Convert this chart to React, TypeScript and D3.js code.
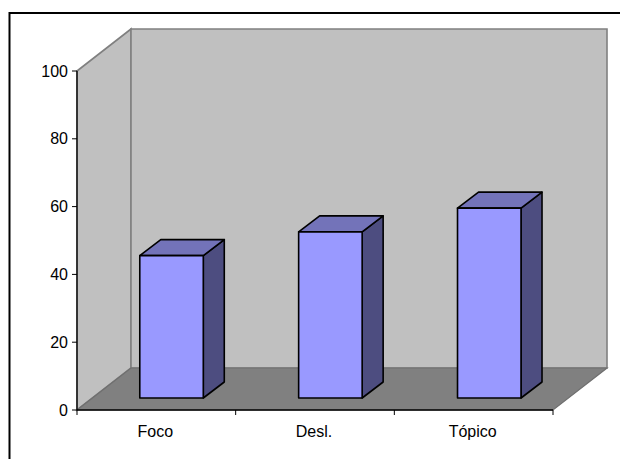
import React from "react";
import * as d3 from "d3";

const categories = ["Foco", "Desl.", "Tópico"];
const values = [42, 49, 56];
const yTicks = [0, 20, 40, 60, 80, 100];

const FONT = "'Liberation Sans', Arial, sans-serif";

// Oblique projection of the chart box
const depthX = 54;
const depthY = -42;
const barDepthX = 21;
const barDepthY = -16;
const barInset = 12;

const y = d3.scaleLinear().domain([0, 100]).range([410, 71]);
const x = d3.scaleBand<string>().domain(categories).range([77, 553]).paddingInner(0).paddingOuter(0);
const pts = (p: [number, number][]) => p.map((q) => q.join(",")).join(" ");

export default function App() {
  const [x0, x1] = x.range();
  const y0 = y(0);
  const y100 = y(100);
  const barW = 63.5;
  return (
    <svg width={620} height={459} style={{ position: "absolute", left: 0, top: 0 }} fontFamily={FONT}>
      <rect x={9.5} y={13} width={640} height={480} fill="#fff" stroke="#000" strokeWidth={2} />
      {/* side wall, back wall, floor */}
      <polygon
        points={pts([[x0, y0], [x0 + depthX, y0 + depthY], [x0 + depthX, y100 + depthY], [x0, y100]])}
        fill="#c0c0c0" stroke="#808080" strokeWidth={1.6}
      />
      <polygon
        points={pts([[x0 + depthX, y0 + depthY], [x1 + depthX, y0 + depthY], [x1 + depthX, y100 + depthY], [x0 + depthX, y100 + depthY]])}
        fill="#c0c0c0" stroke="#808080" strokeWidth={1.6}
      />
      <polygon
        points={pts([[x0, y0], [x1, y0], [x1 + depthX, y0 + depthY], [x0 + depthX, y0 + depthY]])}
        fill="#808080" stroke="#6f6f6f" strokeWidth={1.2}
      />
      {/* bars */}
      {categories.map((c, i) => {
        const left = (x(c) as number) + (x.bandwidth() - barW) / 2 + 15.2 + i * 0.2;
        const right = left + barW;
        const bottom = y0 - barInset;
        const top = bottom - (y0 - y(values[i]));
        return (
          <g key={c} stroke="#000" strokeWidth={1.6} strokeLinejoin="round">
            <polygon
              points={pts([[right, bottom], [right + barDepthX, bottom + barDepthY], [right + barDepthX, top + barDepthY], [right, top]])}
              fill="#4d4d80"
            />
            <polygon
              points={pts([[left, top], [right, top], [right + barDepthX, top + barDepthY], [left + barDepthX, top + barDepthY]])}
              fill="#7373b9"
            />
            <rect x={left} y={top} width={barW} height={bottom - top} fill="#9999ff" />
          </g>
        );
      })}
      {/* value axis */}
      <line x1={x0} x2={x0} y1={y100} y2={y0} stroke="#000" strokeWidth={1.3} />
      {yTicks.map((t) => (
        <g key={t}>
          <line x1={x0 - 5} x2={x0} y1={y(t)} y2={y(t)} stroke="#000" strokeWidth={1} />
          <text x={x0 - 9} y={y(t) + 5.5} textAnchor="end" fontSize={16} fill="#000">{t}</text>
        </g>
      ))}
      {/* category axis */}
      <line x1={x0} x2={x1} y1={y0} y2={y0} stroke="#000" strokeWidth={1.3} />
      {[x0, ...categories.map((c) => (x(c) as number) + x.bandwidth())].map((t) => (
        <line key={t} x1={t} x2={t} y1={y0} y2={y0 + 5} stroke="#000" strokeWidth={1} />
      ))}
      {categories.map((c) => (
        <text key={c} x={(x(c) as number) + x.bandwidth() / 2 - 1} y={437} textAnchor="middle" fontSize={16} fill="#000">{c}</text>
      ))}
    </svg>
  );
}
